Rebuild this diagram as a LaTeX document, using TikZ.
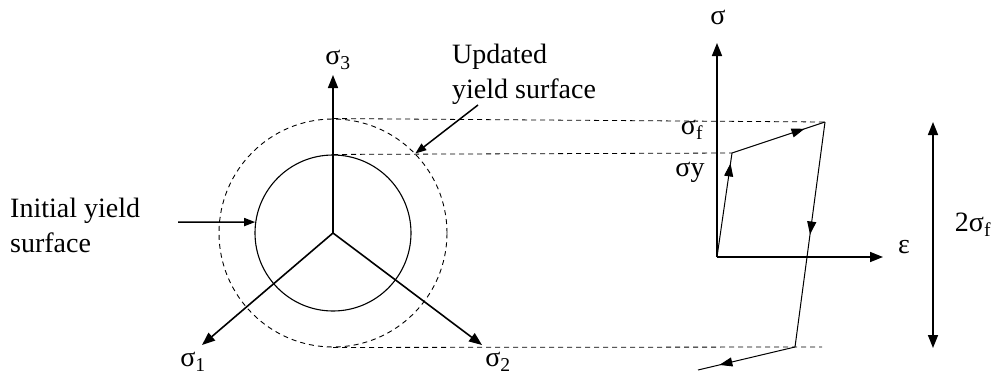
\documentclass[tikz,border=0pt]{standalone}
\usepackage{fontspec}
\setmainfont{Liberation Serif}
\usetikzlibrary{arrows.meta, positioning, calc, decorations.markings}

\tikzset{
    axis/.style={line width=1.6pt, -{Triangle[length=13pt, width=10pt]}},
    guide/.style={line width=0.8pt, dash pattern=on 5pt off 4pt},
    pointer/.style={line width=1.5pt, -{Triangle[length=11pt, width=8pt]}},
    lbl/.style={font=\fontsize{28}{34}\selectfont, inner sep=0pt},
    txt/.style={font=\fontsize{28}{35}\selectfont, align=left, inner sep=0pt, anchor=west},
    midarrow/.style={postaction={decorate}, decoration={markings,
        mark=at position #1 with {\arrow{Triangle[length=13pt, width=9pt]}}}},
}

\begin{document}
\begin{tikzpicture}[x=1pt, y=-1pt]
    \useasboundingbox (0,0) rectangle (995,383);

    % Yield surfaces
    \coordinate (O) at (333,233);
    \node[circle, draw, line width=1.1pt, minimum size=156pt, inner sep=0pt] (init) at (O) {};
    \node[circle, draw, guide, line width=0.9pt, minimum size=228pt, inner sep=0pt] (upd) at (O) {};

    % Principal stress axes
    \coordinate (s3) at (333,75);
    \coordinate (s1) at (202,345);
    \coordinate (s2) at (482,345);
    \draw[axis] (O) -- (s3);
    \draw[axis] (O) -- (s1);
    \draw[axis] (O) -- (s2);
    \node[lbl] (l3) at (338,60) {σ\textsubscript{3}};
    \node[lbl] (l1) at (193,362) {σ\textsubscript{1}};
    \node[lbl] (l2) at (498,362) {σ\textsubscript{2}};

    % Annotations
    \node[txt] (tinit) at (10,225) {Initial yield\\surface};
    \coordinate (ainit) at (178,222);
    \draw[pointer] (ainit) -- (init.172);
    \node[txt] (tupd) at (452,74) {Updated\\yield surface};
    \coordinate (aupd) at (478,105);
    \draw[pointer] (aupd) -- (upd.44);

    % Stress-strain diagram
    \coordinate (p0) at (717,257);
    \coordinate (p1) at (732,153);
    \coordinate (p2) at (825,122);
    \coordinate (p3) at (795,347);
    \coordinate (p4) at (698,370);
    \coordinate (st) at (717,43);
    \coordinate (et) at (883,257);
    \draw[axis] (p0) -- (st);
    \draw[axis] (p0) -- (et);
    \node[lbl] (ls) at (718,17) {σ};
    \node[lbl] (le) at (904,247) {ε};

    \draw[line width=1pt, midarrow=0.9] (p0) -- (p1);
    \draw[line width=1pt, midarrow=0.78] (p1) -- (p2);
    \draw[line width=1pt, midarrow=0.5] (p2) -- (p3);
    \draw[line width=1pt, midarrow=0.78] (p3) -- (p4);
    \node[lbl] (lf) at (692,130) {σ\textsubscript{f}};
    \node[lbl] (ly) at (690,172) {σy};

    % Guide lines
    \draw[guide] (upd.north) -- (p2);
    \draw[guide] (init.north) -- (p1);
    \draw[guide] (upd.south) -- ($(p3)+(27,0)$);

    % Stress range
    \coordinate (rt) at (933,122);
    \coordinate (rb) at (933,348);
    \draw[line width=1.6pt, {Triangle[length=13pt, width=10pt]}-{Triangle[length=13pt, width=10pt]}] (rt) -- (rb);
    \node[lbl] (lr) at (973,225) {2σ\textsubscript{f}};
\end{tikzpicture}
\end{document}
